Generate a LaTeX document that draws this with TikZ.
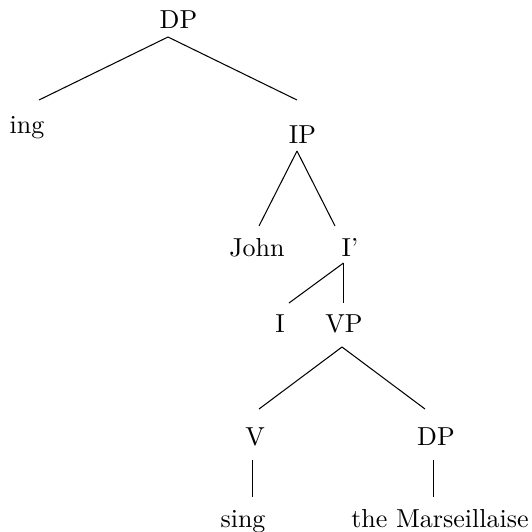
\documentclass[tikz,border=0pt]{standalone}
\begin{document}
\begin{tikzpicture}[x=0.3846pt,y=-0.3846pt,
  lbl/.style={inner sep=0pt, anchor=base, font=\fontsize{10}{12}\selectfont},
  edge/.style={line width=0.4pt}]
\useasboundingbox (0,0) rectangle (532,531);
% labels
\node[lbl] (dp)   at (178.5,28) {DP};
\node[lbl] (ing)  at (27,133)   {ing};
\node[lbl] (ip)   at (302.5,143) {IP};
\node[lbl] (john) at (257,256)  {John};
\node[lbl] (ibar) at (350,256)  {I'};
\node[lbl] (i)    at (280,332)  {I};
\node[lbl] (vp)   at (344,332)  {VP};
\node[lbl] (v)    at (255,445)  {V};
\node[lbl] (dpb)  at (436,445)  {DP};
\node[lbl] (sing) at (243,527)  {sing};
\node[lbl] (mars) at (440,527)  {the Marseillaise};
% edge end points
\coordinate (dp-s)   at (168,37);
\coordinate (ing-n)  at (39,100);
\coordinate (ip-n)   at (297,100);
\coordinate (ip-s)   at (297,151);
\coordinate (john-n) at (259,226);
\coordinate (ibar-n) at (335,226);
\coordinate (ibar-s) at (343.5,263);
\coordinate (i-n)    at (289,303);
\coordinate (vp-n)   at (343.5,303);
\coordinate (vp-s)   at (342,347);
\coordinate (v-n)    at (259,409);
\coordinate (dpb-n)  at (425,409);
\coordinate (v-s)    at (252.5,460);
\coordinate (sing-n) at (252.5,497);
\coordinate (dpb-s)  at (433.5,460);
\coordinate (mars-n) at (433.5,497);
% connectors
\draw[edge] (dp-s) -- (ing-n);
\draw[edge] (dp-s) -- (ip-n);
\draw[edge] (ip-s) -- (john-n);
\draw[edge] (ip-s) -- (ibar-n);
\draw[edge] (ibar-s) -- (i-n);
\draw[edge] (ibar-s) -- (vp-n);
\draw[edge] (vp-s) -- (v-n);
\draw[edge] (vp-s) -- (dpb-n);
\draw[edge] (v-s) -- (sing-n);
\draw[edge] (dpb-s) -- (mars-n);
\end{tikzpicture}
\end{document}
